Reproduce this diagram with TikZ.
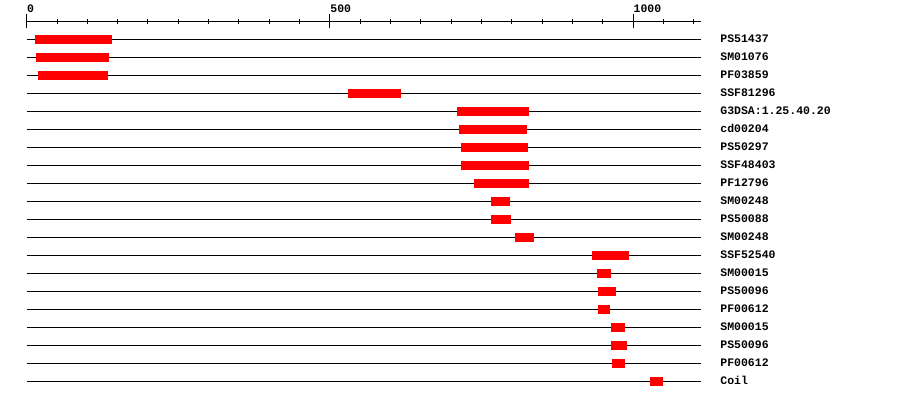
\documentclass[tikz,border=0pt]{standalone}
\usepackage{fontspec}
\setmonofont{Liberation Mono}
\begin{document}
\begin{tikzpicture}[x=0.6066pt,y=-1pt,line width=1pt,
    every node/.style={font=\ttfamily\bfseries\fontsize{11.5}{12}\selectfont, inner sep=0pt},
    hit/.style={fill=red, draw=none}]
  \useasboundingbox (-44,0) rectangle (1440,400);
  % scale
  \draw (0,21.5) -- (1112,21.5);
  \foreach \t in {0,50,...,1100}
    \draw (\t,19) -- (\t,24);
  \foreach \t in {0,500,1000} {
    \draw (\t,14) -- (\t,28);
    \node[anchor=base west] (tick\t) at (\t,12) {\t};
  }
  % matches
  \foreach \i/\name/\a/\b in {1/PS51437/14/140, 2/SM01076/15/136, 3/PF03859/19/134,
      4/SSF81296/530/617, 5/G3DSA:1.25.40.20/709/828, 6/cd00204/713/825,
      7/PS50297/716/826, 8/SSF48403/716/828, 9/PF12796/737/828,
      10/SM00248/766/797, 11/PS50088/766/798, 12/SM00248/805/836,
      13/SSF52540/932/993, 14/SM00015/940/963, 15/PS50096/942/971,
      16/PF00612/942/962, 17/SM00015/963/986, 18/PS50096/963/990,
      19/PF00612/965/986, 20/Coil/1028/1049} {
    \draw (0,21.5+18*\i) -- (1112,21.5+18*\i);
    \fill[hit] (\a,17+18*\i) rectangle (\b,26+18*\i);
    \node[anchor=base west] (lbl\i) at (1143,25+18*\i) {\name};
  }
\end{tikzpicture}
\end{document}
